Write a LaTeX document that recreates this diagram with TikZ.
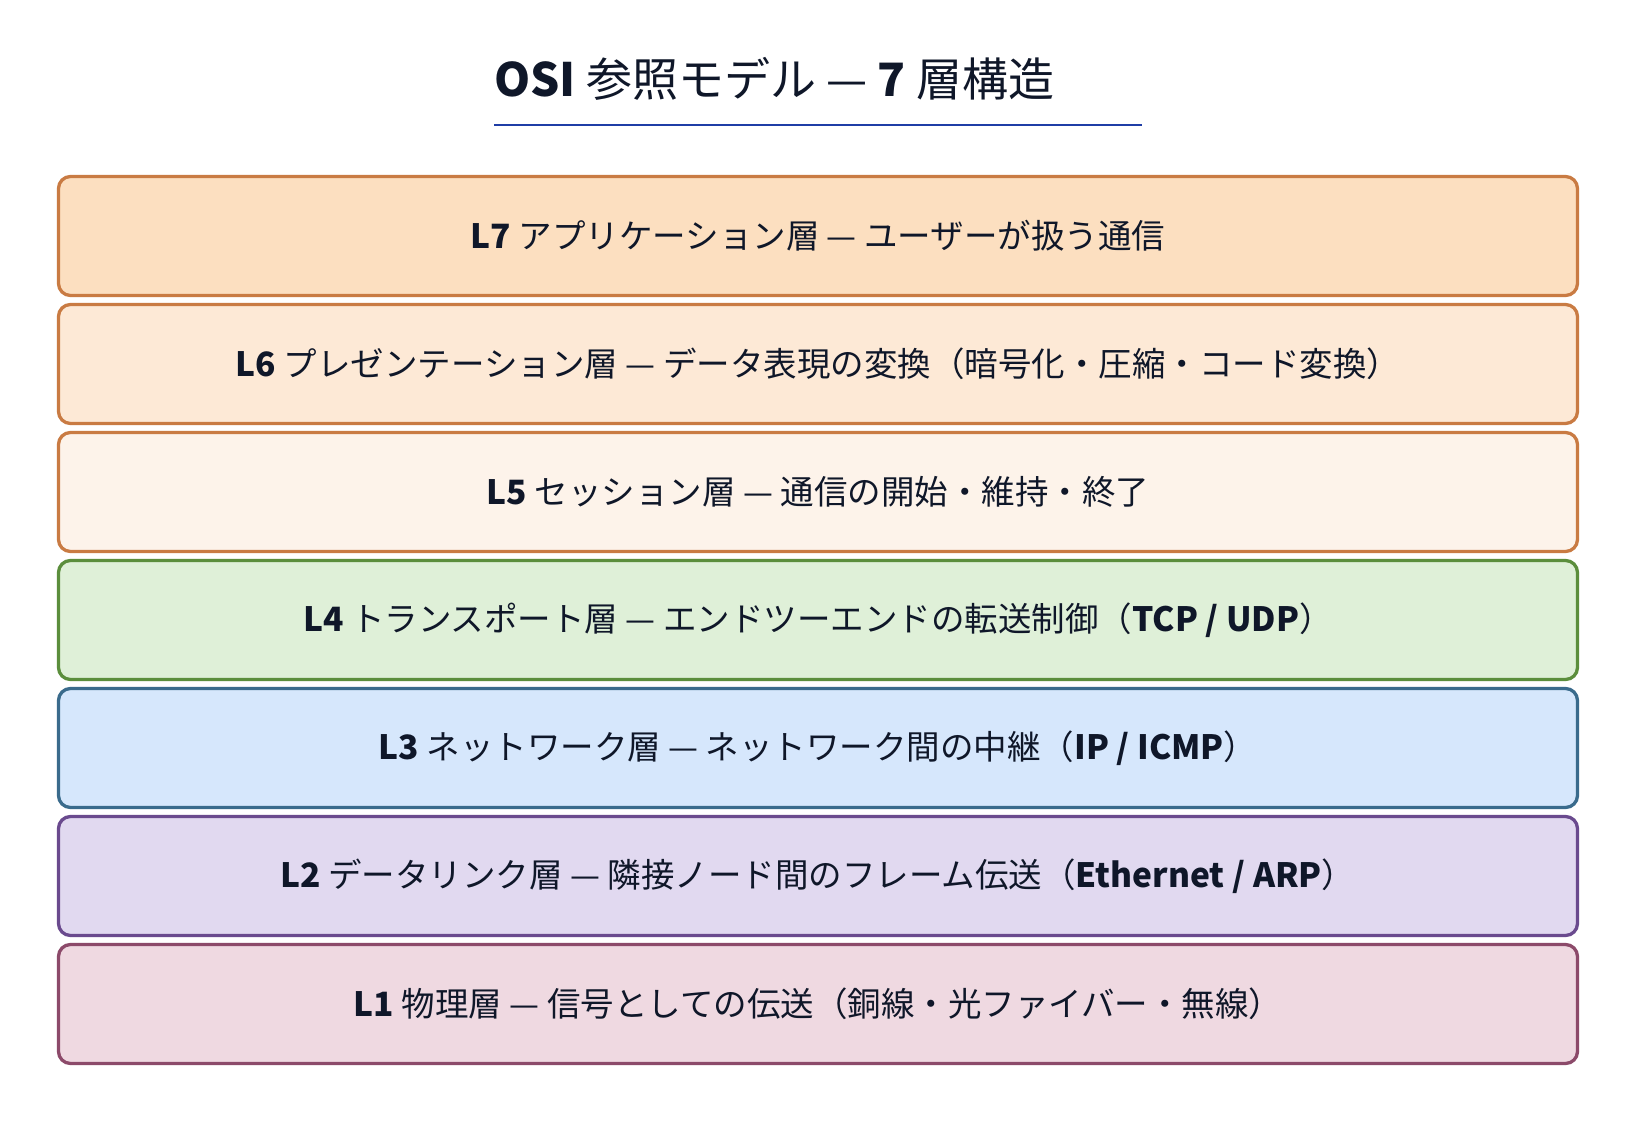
\documentclass[tikz,border=0pt]{standalone}
\usepackage{fontspec}
\setmainfont{Noto Sans CJK JP}
\definecolor{ink}{HTML}{0F1729}
\definecolor{rule}{HTML}{1F3DA6}
\definecolor{fA}{HTML}{FCDFC0}
\definecolor{fB}{HTML}{FDE9D6}
\definecolor{fC}{HTML}{FDF3EA}
\definecolor{fD}{HTML}{DFF0D8}
\definecolor{fE}{HTML}{D6E7FC}
\definecolor{fF}{HTML}{E1D9F0}
\definecolor{fG}{HTML}{EFD9E1}
\definecolor{sOr}{HTML}{C97B43}
\definecolor{sGr}{HTML}{5B8E3C}
\definecolor{sBl}{HTML}{3A6B8C}
\definecolor{sPu}{HTML}{6A4A8E}
\definecolor{sRo}{HTML}{8C4A6A}
\begin{document}
\begin{tikzpicture}[x=1pt,y=-1pt,
  layerbox/.style={draw, line width=3.3pt, rounded corners=12pt,
    minimum width=1519pt, minimum height=119pt, inner sep=0pt,
    text=ink, font=\fontsize{33.5}{40}\selectfont},
  titletext/.style={text=ink, inner sep=0pt, anchor=base west,
    font=\fontsize{46}{55}\selectfont}]
\useasboundingbox (0,0) rectangle (1636,1122);
\fill[white] (0,0) rectangle (1636,1122);
\node[titletext] (title) at (494,96) {\textbf{OSI} 参照モデル — \textbf{7} 層構造};
\coordinate (ulA) at (494,125);
\coordinate (ulB) at (1142,125);
\draw[rule, line width=2pt] (ulA) -- (ulB);
\node[layerbox, fill=fA, draw=sOr] (l7) at (818,236) {\textbf{L7} アプリケーション層 — ユーザーが扱う通信};
\node[layerbox, fill=fB, draw=sOr] (l6) at (818,364) {\textbf{L6} プレゼンテーション層 — データ表現の変換（暗号化・圧縮・コード変換）};
\node[layerbox, fill=fC, draw=sOr] (l5) at (818,492) {\textbf{L5} セッション層 — 通信の開始・維持・終了};
\node[layerbox, fill=fD, draw=sGr] (l4) at (818,620) {\textbf{L4} トランスポート層 — エンドツーエンドの転送制御（\textbf{TCP / UDP}）};
\node[layerbox, fill=fE, draw=sBl] (l3) at (818,748) {\textbf{L3} ネットワーク層 — ネットワーク間の中継（\textbf{IP / ICMP}）};
\node[layerbox, fill=fF, draw=sPu] (l2) at (818,876) {\textbf{L2} データリンク層 — 隣接ノード間のフレーム伝送（\textbf{Ethernet / ARP}）};
\node[layerbox, fill=fG, draw=sRo] (l1) at (818,1004) {\textbf{L1} 物理層 — 信号としての伝送（銅線・光ファイバー・無線）};
\end{tikzpicture}
\end{document}
